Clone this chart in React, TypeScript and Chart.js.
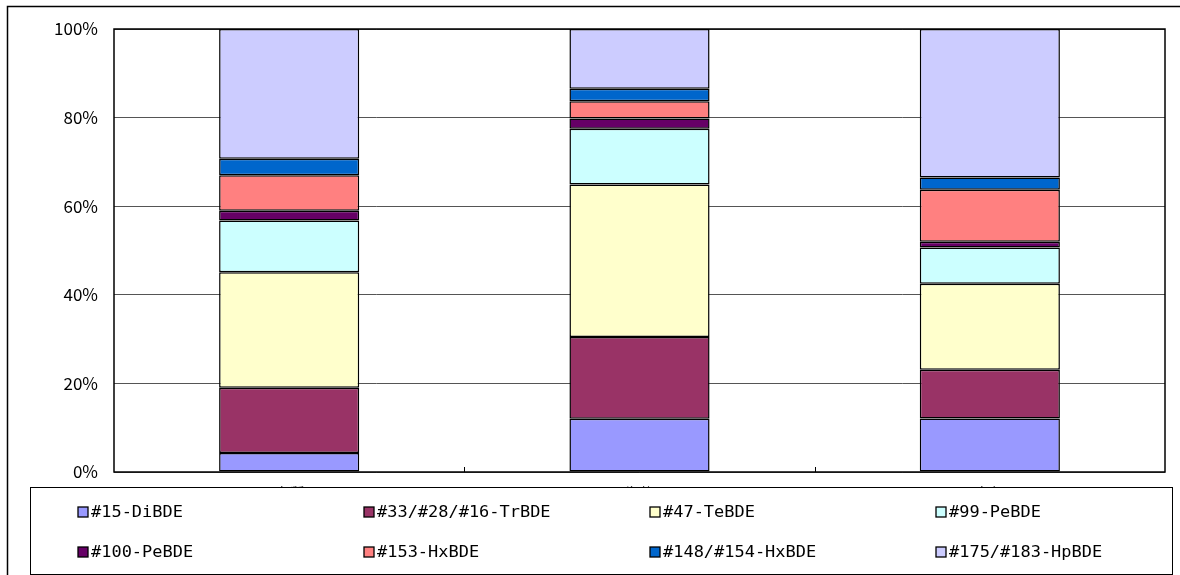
import React, { useEffect, useRef } from "react";
import { Chart, registerables } from "chart.js";

Chart.register(...registerables);

const categories = ["底質", "生物", "大気"];
const seriesNames = [
  "#15-DiBDE",
  "#33/#28/#16-TrBDE",
  "#47-TeBDE",
  "#99-PeBDE",
  "#100-PeBDE",
  "#153-HxBDE",
  "#148/#154-HxBDE",
  "#175/#183-HpBDE",
];
const seriesColors = ["#9999FF", "#993366", "#FFFFCC", "#CCFFFF", "#660066", "#FF8080", "#0066CC", "#CCCCFF"];

const diBDE15 = [4.3, 12.0, 12.1];
const trBDE33 = [14.7, 18.5, 11.0];
const teBDE47 = [26.1, 34.4, 19.4];
const peBDE99 = [11.7, 12.6, 8.2];
const peBDE100 = [2.2, 2.3, 1.3];
const hxBDE153 = [8.0, 3.9, 11.7];
const hxBDE148 = [3.7, 2.8, 2.8];
const hpBDE175 = [29.3, 13.5, 33.5];

const seriesValues = [diBDE15, trBDE33, teBDE47, peBDE99, peBDE100, hxBDE153, hxBDE148, hpBDE175];
const yTickValues = [0, 20, 40, 60, 80, 100];

const FONT = "'Noto Sans CJK JP', 'Liberation Sans', sans-serif";
const LEGEND_FONT = "'DejaVu Sans Mono', 'Liberation Mono', monospace";

const framePlugin = {
  id: "frame",
  beforeDraw(chart: any) {
    const ctx = chart.ctx;
    ctx.save();
    ctx.fillStyle = "#ffffff";
    ctx.fillRect(0, 0, chart.width, chart.height);
    ctx.strokeStyle = "#000000";
    ctx.lineWidth = 1.5;
    ctx.strokeRect(7.5, 6.5, chart.width + 20, chart.height + 20);
    ctx.restore();
  },
  afterDraw(chart: any) {
    const ctx = chart.ctx;
    const a = chart.chartArea;
    const xs = chart.scales.x;
    ctx.save();
    ctx.strokeStyle = "#000000";
    ctx.lineWidth = 1.5;
    ctx.strokeRect(a.left, a.top, a.right - a.left, a.bottom - a.top);
    ctx.lineWidth = 1;
    for (let i = 0; i < categories.length - 1; i++) {
      const x = Math.round((xs.getPixelForValue(i) + xs.getPixelForValue(i + 1)) / 2) + 0.5;
      ctx.beginPath();
      ctx.moveTo(x, a.bottom);
      ctx.lineTo(x, a.bottom - 5);
      ctx.stroke();
    }
    const lx = 30, ly = 487, lw = 1142, lh = 87;
    ctx.fillStyle = "#ffffff";
    ctx.fillRect(lx, ly, lw, lh);
    ctx.strokeStyle = "#000000";
    ctx.lineWidth = 1;
    ctx.strokeRect(lx + 0.5, ly + 0.5, lw, lh);
    const colX = [78, 364, 650, 936];
    const rowY = [512, 552];
    ctx.font = "16px " + LEGEND_FONT;
    ctx.textBaseline = "middle";
    ctx.textAlign = "left";
    seriesNames.forEach((name, i) => {
      const cx = colX[i % 4];
      const cy = rowY[Math.floor(i / 4)];
      ctx.fillStyle = seriesColors[i];
      ctx.fillRect(cx, cy - 5, 10, 10);
      ctx.strokeStyle = "#000000";
      ctx.lineWidth = 1.3;
      ctx.strokeRect(cx, cy - 5, 10, 10);
      ctx.fillStyle = "#000000";
      ctx.save();
      ctx.translate(cx + 13, cy + 1);
      ctx.scale(1.06, 1);
      ctx.fillText(name, 0, 0);
      ctx.restore();
    });
    ctx.restore();
  },
};

export default function App() {
  const ref = useRef<HTMLCanvasElement | null>(null);
  useEffect(() => {
    if (!ref.current) return;
    const chart = new Chart(ref.current, {
      type: "bar",
      data: {
        labels: categories,
        datasets: seriesNames.map((name, i) => ({
          label: name,
          data: seriesValues[i],
          backgroundColor: seriesColors[i],
          borderColor: "#000000",
          borderWidth: 1.5,
          borderSkipped: false,
          barPercentage: 0.4,
          categoryPercentage: 1,
        })),
      },
      options: {
        responsive: false,
        animation: false,
        layout: { padding: { left: 0, top: 29, right: 15, bottom: 0 } },
        plugins: {
          legend: { display: false },
          tooltip: { enabled: false },
        },
        scales: {
          x: {
            stacked: true,
            grid: { display: false, drawTicks: false },
            border: { display: false },
            ticks: { color: "#000000", padding: 12, font: { family: FONT, size: 16 } },
            afterFit(scale: any) {
              scale.height = 103;
            },
          },
          y: {
            stacked: true,
            min: 0,
            max: 100,
            grid: { color: "#555555", lineWidth: 1, drawTicks: false },
            border: { display: false },
            afterBuildTicks(scale: any) {
              scale.ticks = yTickValues.map((v) => ({ value: v }));
            },
            ticks: {
              color: "#000000",
              padding: 16,
              font: { family: FONT, size: 17 },
              callback: (v: any) => v + "%",
            },
            afterFit(scale: any) {
              scale.width = 114;
            },
          },
        },
      },
      plugins: [framePlugin],
    });
    return () => chart.destroy();
  }, []);
  return (
    <div style={{ position: "absolute", left: 0, top: 0, width: 1180, height: 575 }}>
      <canvas ref={ref} width={1180} height={575} style={{ display: "block" }} />
    </div>
  );
}
